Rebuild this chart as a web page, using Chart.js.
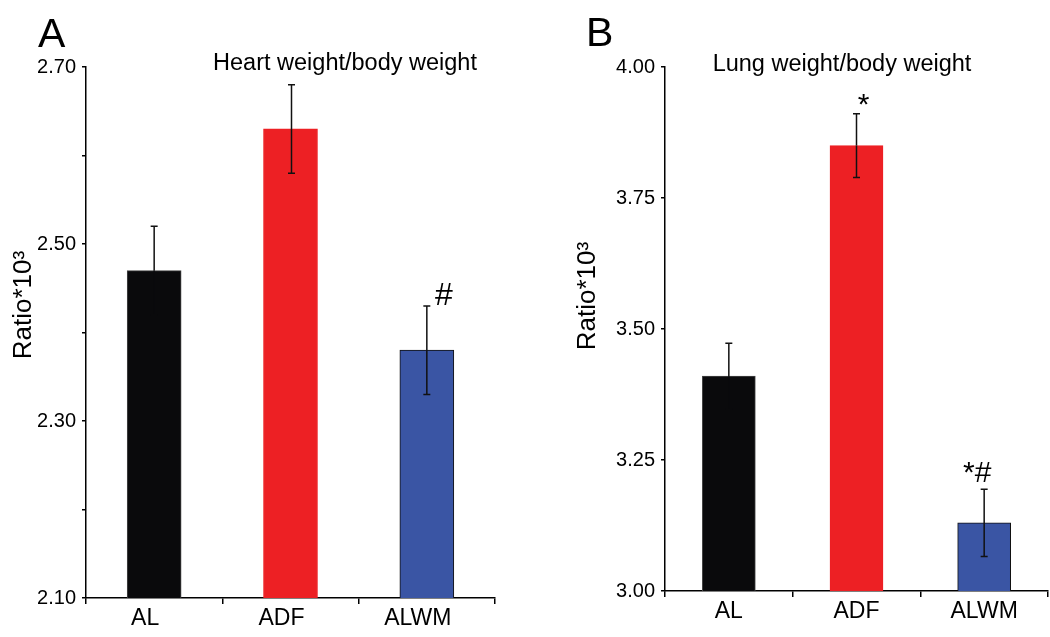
<!DOCTYPE html>
<html>
<head>
<meta charset="utf-8">
<script src="https://cdn.jsdelivr.net/npm/chart.js@4.4.1/dist/chart.umd.min.js"></script>
<style>
  html, body { margin: 0; padding: 0; background: #fff; }
  #wrap { position: relative; width: 1050px; height: 637px; overflow: hidden; }
  canvas { position: absolute; top: 0; }
</style>
</head>
<body>
<div id="wrap">
  <canvas id="cA" width="525" height="637" style="left:0;width:525px;height:637px"></canvas>
  <canvas id="cB" width="525" height="637" style="left:525px;width:525px;height:637px"></canvas>
</div>
<script>
// ---------------- DATA ----------------
const categories = ['AL', 'ADF', 'ALWM'];

const heartRatio = [2.47, 2.63, 2.38];
const heartSEM   = [0.05, 0.05, 0.05];
const heartSig   = ['', '', '#'];
const heartTickValues = [2.10, 2.20, 2.30, 2.40, 2.50, 2.60, 2.70];
const heartTickLabels = ['2.10', '', '2.30', '', '2.50', '', '2.70'];

const lungRatio = [3.41, 3.85, 3.13];
const lungSEM   = [0.063, 0.061, 0.064];
const lungSig   = ['', '*', '*#'];
const lungTickValues = [3.00, 3.25, 3.50, 3.75, 4.00];
const lungTickLabels = ['3.00', '3.25', '3.50', '3.75', '4.00'];

const barColors  = ['#0a0a0c', '#ED2024', '#3A55A4'];
const barBorders = ['#444444', '#ED2024', '#111111'];
const errLowerColors = ['#0a0a0c', '#111111', '#111111'];

const FONT = "'Liberation Sans', Arial, sans-serif";

// ---------------- overlay plugin: error bars, markers, texts ----------------
const overlay = {
  id: 'overlay',
  afterDatasetsDraw(chart, args, o) {
    const ctx = chart.ctx;
    const ys = chart.scales.y;
    const meta = chart.getDatasetMeta(0);
    const vals = chart.data.datasets[0].data;
    ctx.save();
    // error bars
    ctx.lineWidth = 1.5;
    vals.forEach((v, i) => {
      const bx = meta.data[i].x + o.errDx[i];
      const ym = ys.getPixelForValue(v);
      const yt = ys.getPixelForValue(v + o.sem[i]);
      const yb = ys.getPixelForValue(v - o.sem[i]);
      ctx.strokeStyle = '#111111';
      ctx.beginPath();
      ctx.moveTo(bx, yt); ctx.lineTo(bx, ym);
      ctx.moveTo(bx - 3.5, yt); ctx.lineTo(bx + 3.5, yt);
      ctx.stroke();
      ctx.strokeStyle = errLowerColors[i];
      ctx.beginPath();
      ctx.moveTo(bx, ym); ctx.lineTo(bx, yb);
      ctx.moveTo(bx - 3.5, yb); ctx.lineTo(bx + 3.5, yb);
      ctx.stroke();
    });
    // significance markers
    ctx.fillStyle = '#000';
    ctx.textAlign = 'center';
    ctx.textBaseline = 'alphabetic';
    vals.forEach((v, i) => {
      const s = o.sig[i];
      if (!s) return;
      const bx = meta.data[i].x + o.sigDx[i];
      const yt = ys.getPixelForValue(v + o.sem[i]);
      ctx.font = o.sigSize + 'px ' + FONT;
      ctx.fillText(s, bx, yt + o.sigDy[i]);
    });
    // panel letter
    ctx.textAlign = 'left';
    ctx.font = '41px ' + FONT;
    ctx.fillText(o.letter, o.letterX, o.letterY);
    // title
    ctx.textAlign = 'center';
    ctx.font = '23.5px ' + FONT;
    ctx.fillText(o.title, o.titleX, o.titleY);
    // y axis title (rotated)
    ctx.translate(o.yTitleX, o.yTitleY);
    ctx.rotate(-Math.PI / 2);
    ctx.textBaseline = 'middle';
    ctx.font = o.yTitleSize + 'px ' + FONT;
    ctx.fillText('Ratio*10³', 0, 0);
    ctx.restore();
  }
};

function makeChart(id, values, sem, tickValues, tickLabels, cfg) {
  return new Chart(document.getElementById(id), {
    type: 'bar',
    data: {
      labels: categories,
      datasets: [{
        data: values,
        backgroundColor: barColors,
        borderColor: barBorders,
        borderWidth: 1,
        barThickness: cfg.barThickness
      }]
    },
    plugins: [overlay],
    options: {
      responsive: false,
      animation: false,
      devicePixelRatio: 1,
      layout: { padding: { left: 0, top: 67, right: cfg.padRight, bottom: 0 } },
      plugins: {
        legend: { display: false },
        tooltip: { enabled: false },
        overlay: cfg.overlay
      },
      scales: {
        x: {
          afterFit: s => { s.height = cfg.xHeight; },
          border: { display: true, color: '#000', width: 1.5 },
          grid: { display: true, offset: true, drawOnChartArea: false, drawTicks: true, tickLength: 6, color: '#000', lineWidth: 1.5 },
          ticks: { color: '#000', font: { family: FONT, size: 23 }, padding: 1, labelOffset: cfg.labelOffset, maxRotation: 0 }
        },
        y: {
          min: tickValues[0],
          max: tickValues[tickValues.length - 1],
          afterFit: s => { s.width = cfg.yWidth; },
          afterBuildTicks: s => { s.ticks = tickValues.map(v => ({ value: v })); },
          border: { display: true, color: '#000', width: 1.5 },
          grid: { display: true, drawOnChartArea: false, drawTicks: true, tickLength: 4, color: '#000', lineWidth: 1.5 },
          ticks: {
            color: '#000', font: { family: FONT, size: 20 }, padding: 6,
            callback: (val, idx) => tickLabels[idx]
          }
        }
      }
    }
  });
}

makeChart('cA', heartRatio, heartSEM, heartTickValues, heartTickLabels, {
  barThickness: 54, padRight: 30, xHeight: 39, yWidth: 86, labelOffset: -9,
  overlay: {
    sem: heartSEM, sig: heartSig, errDx: [0, 1, 0], sigDx: [0, 0, 17], sigDy: [0, 0, -1], sigSize: 32,
    letter: 'A', letterX: 38, letterY: 47,
    title: 'Heart weight/body weight', titleX: 345, titleY: 70,
    yTitleX: 24, yTitleY: 305, yTitleSize: 26
  }
});

makeChart('cB', lungRatio, lungSEM, lungTickValues, lungTickLabels, {
  barThickness: 53, padRight: 2, xHeight: 46, yWidth: 140, labelOffset: 0,
  overlay: {
    sem: lungSEM, sig: lungSig, errDx: [0, 0, 0], sigDx: [0, 7, -7], sigDy: [0, 0, -7], sigSize: 30,
    letter: 'B', letterX: 61, letterY: 46,
    title: 'Lung weight/body weight', titleX: 317, titleY: 71,
    yTitleX: 63, yTitleY: 296, yTitleSize: 26
  }
});
</script>
</body>
</html>
